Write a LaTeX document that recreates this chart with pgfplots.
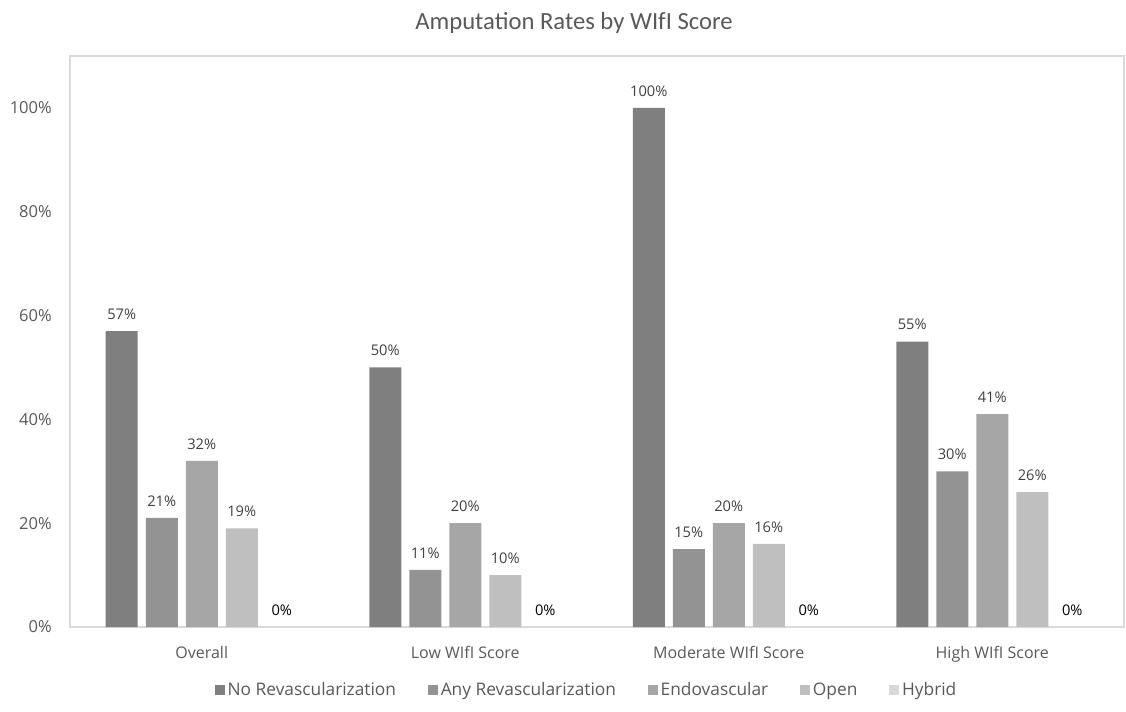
\documentclass[border=0pt]{standalone}
\usepackage{fontspec}
\setmainfont{Open Sans}
\newfontfamily\titlefont{Carlito}
\usepackage{pgfplots}
\pgfplotsset{compat=1.18}
\definecolor{cA}{HTML}{7F7F7F}
\definecolor{cB}{HTML}{939393}
\definecolor{cC}{HTML}{A6A6A6}
\definecolor{cD}{HTML}{BFBFBF}
\definecolor{cE}{HTML}{D9D9D9}
\definecolor{txt}{HTML}{595959}
\definecolor{lbl}{HTML}{404040}
\definecolor{frame}{HTML}{D9D9D9}
\begin{document}
\begin{tikzpicture}
\path[use as bounding box] (-52.5pt,-63pt) rectangle (792pt,470.25pt);
\begin{axis}[
  at={(0,0)}, anchor=south west,
  scale only axis,
  width=790.5pt, height=428.25pt,
  /pgf/number format/assume math mode=true,
  ybar=6pt, bar width=24pt,
  xmin=-0.5, xmax=3.5,
  ymin=0, ymax=110,
  xtick=data,
  xticklabels={Overall, Low WIfI Score, Moderate WIfI Score, High WIfI Score},
  ytick={0,20,40,60,80,100},
  yticklabel={\pgfmathprintnumber{\tick}\%},
  major tick length=0pt,
  axis line style={frame, line width=1pt},
  xticklabel style={font=\fontsize{12}{14}\selectfont, color=txt, anchor=base, yshift=-23.25pt, inner sep=0pt},
  yticklabel style={font=\fontsize{12.4}{14}\selectfont, color=txt, anchor=east, xshift=-13.5pt, inner sep=0pt},
  title={Amputation Rates by WIfI Score},
  title style={font=\titlefont\fontsize{18.5}{20}\selectfont, color=txt, at={(0.5,1)}, anchor=center, yshift=18.75pt, xshift=-17.25pt},
  nodes near coords={\pgfmathprintnumber{\pgfplotspointmeta}\%},
  every node near coord/.append style={font=\fontsize{11}{12}\selectfont, color=lbl, anchor=center, yshift=12.75pt, inner sep=0pt},
  legend columns=5,
  legend style={at={(0.5,0)}, anchor=center, yshift=-47.25pt, xshift=-7.5pt, draw=none, fill=none,
    font=\fontsize{13}{15}\selectfont, text=txt,
    /tikz/every even column/.append style={column sep=22pt}},
  legend image code/.code={\fill[#1] (0pt,-3.75pt) rectangle (7.5pt,3.75pt);},
]
\addplot[fill=cA, draw=none] coordinates {(0,57) (1,50) (2,100) (3,55)};
\addlegendentry{No Revascularization}
\addplot[fill=cB, draw=none] coordinates {(0,21) (1,11) (2,15) (3,30)};
\addlegendentry{Any Revascularization}
\addplot[fill=cC, draw=none] coordinates {(0,32) (1,20) (2,20) (3,41)};
\addlegendentry{Endovascular}
\addplot[fill=cD, draw=none] coordinates {(0,19) (1,10) (2,16) (3,26)};
\addlegendentry{Open}
\addplot[fill=cE, draw=none, every node near coord/.append style={color=black}] coordinates {(0,0) (1,0) (2,0) (3,0)};
\addlegendentry{Hybrid}
\end{axis}
\end{tikzpicture}
\end{document}
